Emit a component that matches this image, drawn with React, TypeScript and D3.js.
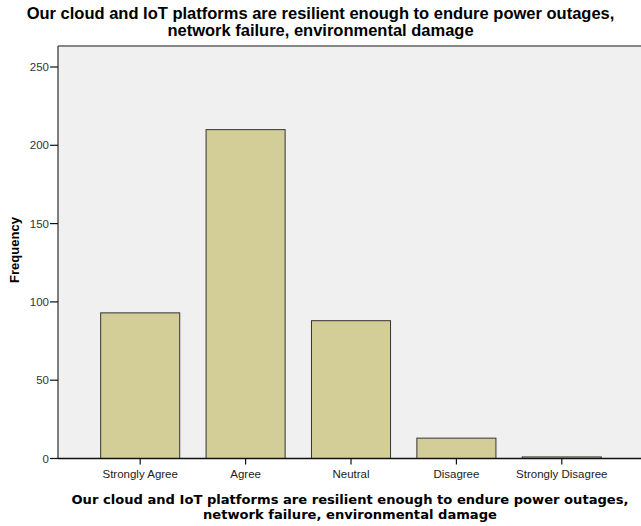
import { scaleBand, scaleLinear } from "d3";

const categories = ["Strongly Agree", "Agree", "Neutral", "Disagree", "Strongly Disagree"];
const frequencies = [93, 210, 88, 13, 1];
const yTicks = [0, 50, 100, 150, 200, 250];
const titleLines = [
  "Our cloud and IoT platforms are resilient enough to endure power outages,",
  "network failure, environmental damage",
];

export default function App() {
  const width = 641,
    height = 526;
  const left = 58,
    top = 46,
    bottom = 458.5,
    right = 643;

  const x = scaleBand<string>()
    .domain(categories)
    .range([left, right])
    .paddingInner(0.25)
    .paddingOuter(0.4);
  const y = scaleLinear().domain([0, 250]).range([bottom, bottom - 250 * 1.566]);

  return (
    <svg
      width={width}
      height={height}
      style={{ position: "absolute", left: 0, top: 0, background: "#fff" }}
      fontFamily="'Liberation Sans', Arial, sans-serif"
    >
      {/* plot area */}
      <rect x={left} y={top} width={right - left} height={bottom - top} fill="#f0f0f0" />
      <line x1={left} x2={width} y1={top} y2={top} stroke="#888" strokeWidth={2} />

      {frequencies.map((v, i) => (
        <rect
          key={categories[i]}
          x={x(categories[i])! + 0.5}
          y={y(v)}
          width={x.bandwidth()}
          height={bottom - y(v)}
          fill="#d3ce97"
          stroke="#333"
          strokeWidth={1}
        />
      ))}

      {/* axes */}
      <line x1={left} x2={left} y1={top} y2={bottom} stroke="#555" strokeWidth={1.5} />
      <line x1={left} x2={width} y1={bottom} y2={bottom} stroke="#111" strokeWidth={1.5} />

      {yTicks.map((t) => (
        <g key={t} transform={`translate(0,${y(t)})`}>
          <line x1={left - 8} x2={left} stroke="#111" strokeWidth={1.2} />
          <text x={left - 9} dy="0.35em" textAnchor="end" fontSize={11.5} fill="#333">
            {t}
          </text>
        </g>
      ))}

      {categories.map((c) => {
        const cx = x(c)! + x.bandwidth() / 2 + 0.5;
        return (
          <g key={c}>
            <line x1={cx} x2={cx} y1={bottom} y2={bottom + 6} stroke="#111" strokeWidth={1.2} />
            <text x={cx} y={478} textAnchor="middle" fontSize={11.5} fill="#222">
              {c}
            </text>
          </g>
        );
      })}

      {/* titles */}
      {titleLines.map((l, i) => (
        <text
          key={"t" + i}
          x={320.5}
          y={19 + i * 17}
          textAnchor="middle"
          fontSize={16.5}
          fontWeight="bold"
          fill="#000"
        >
          {l}
        </text>
      ))}
      {titleLines.map((l, i) => (
        <text
          key={"b" + i}
          x={350}
          y={504 + i * 15}
          textAnchor="middle"
          fontSize={13.1}
          fontWeight="bold"
          fontFamily="'DejaVu Sans', Verdana, sans-serif"
          fill="#000"
        >
          {l}
        </text>
      ))}
      <text
        transform={`translate(19,250) rotate(-90)`}
        textAnchor="middle"
        fontSize={13}
        fontWeight="bold"
        fill="#000"
      >
        Frequency
      </text>
    </svg>
  );
}
